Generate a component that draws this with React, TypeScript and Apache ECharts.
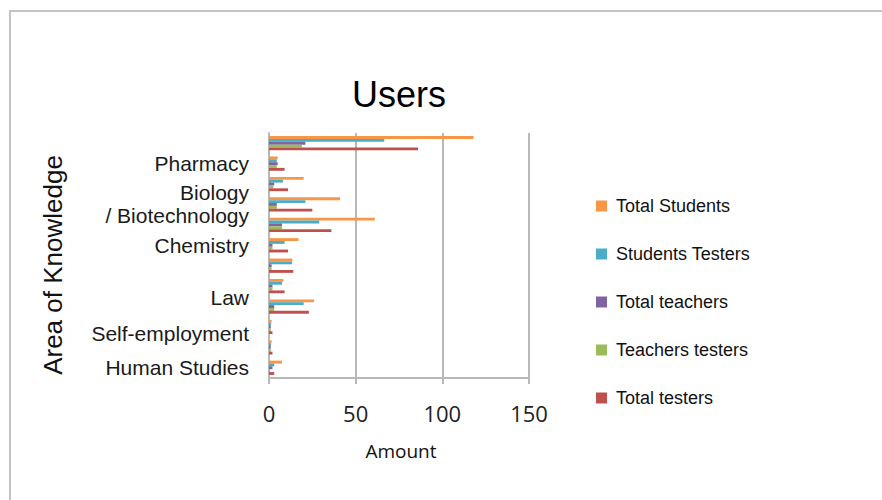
import React, { useEffect, useRef } from "react";
import * as echarts from "echarts";

// Categories from bottom to top (only every other one is labelled in the reference)
const categories = [
  "Human Studies",
  "",
  "Self-employment",
  " ",
  "Law",
  "  ",
  "Chemistry",
  "   ",
  "Biology\n/ Biotechnology",
  "    ",
  "Pharmacy",
  "     ",
];

const seriesNames = [
  "Total Students",
  "Students Testers",
  "Total teachers",
  "Teachers testers",
  "Total testers",
];

const totalStudents = [7.5, 1.5, 1.5, 26, 8.3, 13.5, 17, 61, 41, 20, 5, 118];
const studentsTesters = [3, 1.2, 1.2, 20, 7.5, 13.3, 9, 29, 21, 8, 4.5, 66.5];
const totalTeachers = [2, 1, 1, 3, 2, 1.5, 2, 7.5, 4.5, 3, 5, 21];
const teachersTesters = [0.5, 1, 1, 3, 2, 1.5, 2, 7.5, 4.5, 2.5, 4.5, 19];
const totalTesters = [3, 2, 2, 23, 9, 14, 11, 36, 25, 11, 9, 86];

const xTicks = [0, 50, 100, 150];

const colors = ["#F79646", "#4BACC6", "#8064A2", "#9BBB59", "#C0504D"];

// label nudges (px downward) for some category labels
const labelShift: Record<string, string> = {
  "Self-employment": "s7",
  Law: "s11",
};

export default function App() {
  const ref = useRef<HTMLDivElement>(null);

  useEffect(() => {
    if (!ref.current) return;
    const chart = echarts.init(ref.current, undefined, { renderer: "svg" });
    const values = [totalStudents, studentsTesters, totalTeachers, teachersTesters, totalTesters];
    const gray = "#b8b8b8";
    const labelFont = {
      fontFamily: "Liberation Sans",
      fontSize: 21,
      lineHeight: 23,
      color: "#1a1a1a",
    };
    chart.setOption({
      animation: false,
      backgroundColor: "#ffffff",
      color: colors,
      grid: { left: 269, right: 353, top: 133, bottom: 122, containLabel: false },
      legend: {
        orient: "vertical",
        left: 596,
        top: 197,
        padding: 0,
        itemWidth: 11,
        itemHeight: 11,
        itemGap: 30,
        icon: "rect",
        data: seriesNames,
        textStyle: {
          fontFamily: "Liberation Sans",
          fontSize: 18,
          lineHeight: 18,
          color: "#111111",
          padding: [0, 0, 0, 4],
        },
      },
      xAxis: {
        type: "value",
        min: xTicks[0],
        max: xTicks[xTicks.length - 1],
        interval: 50,
        axisLine: { show: true, lineStyle: { color: gray, width: 2 } },
        axisTick: { show: true, length: 6, lineStyle: { color: gray, width: 2 } },
        splitLine: { show: true, lineStyle: { color: gray, width: 2 } },
        axisLabel: {
          margin: 24,
          fontFamily: "Open Sans",
          fontSize: 22,
          color: "#222222",
        },
      },
      yAxis: {
        type: "category",
        data: categories,
        axisLine: { show: true, lineStyle: { color: gray, width: 2 } },
        axisTick: { show: false },
        splitLine: { show: false },
        axisLabel: {
          interval: 0,
          margin: 20,
          ...labelFont,
          formatter: (v: string) =>
            labelShift[v] ? `{${labelShift[v]}| }\n{t|${v}}` : v,
          rich: {
            t: { ...labelFont },
            s7: { fontSize: 1, lineHeight: 14 },
            s11: { fontSize: 1, lineHeight: 22 },
          },
        },
      },
      series: seriesNames.map((name, i) => ({
        name,
        type: "bar",
        data: values[i],
        barGap: "0%",
        barCategoryGap: "30%",
        itemStyle: { color: colors[i] },
      })),
      graphic: [
        {
          type: "rect",
          shape: { x: 10, y: 11, width: 900, height: 520 },
          style: { fill: "none", stroke: "#c4c4c4", lineWidth: 2 },
          silent: true,
          z: -10,
        },
        {
          type: "text",
          x: 399,
          y: 94,
          style: {
            text: "Users",
            fontFamily: "Liberation Sans",
            fontSize: 36,
            fill: "#000000",
            align: "center",
            verticalAlign: "middle",
          },
        },
        {
          type: "text",
          x: 401,
          y: 451,
          style: {
            text: "Amount",
            fontFamily: "Open Sans",
            fontSize: 19,
            fill: "#111111",
            align: "center",
            verticalAlign: "middle",
          },
        },
        {
          type: "text",
          x: 53,
          y: 265,
          rotation: Math.PI / 2,
          style: {
            text: "Area of Knowledge",
            fontFamily: "Liberation Sans",
            fontSize: 26,
            fill: "#111111",
            align: "center",
            verticalAlign: "middle",
          },
        },
      ],
    });
    return () => chart.dispose();
  }, []);

  return (
    <div
      ref={ref}
      style={{ position: "fixed", left: 0, top: 0, width: 882, height: 500, background: "#fff" }}
    />
  );
}
